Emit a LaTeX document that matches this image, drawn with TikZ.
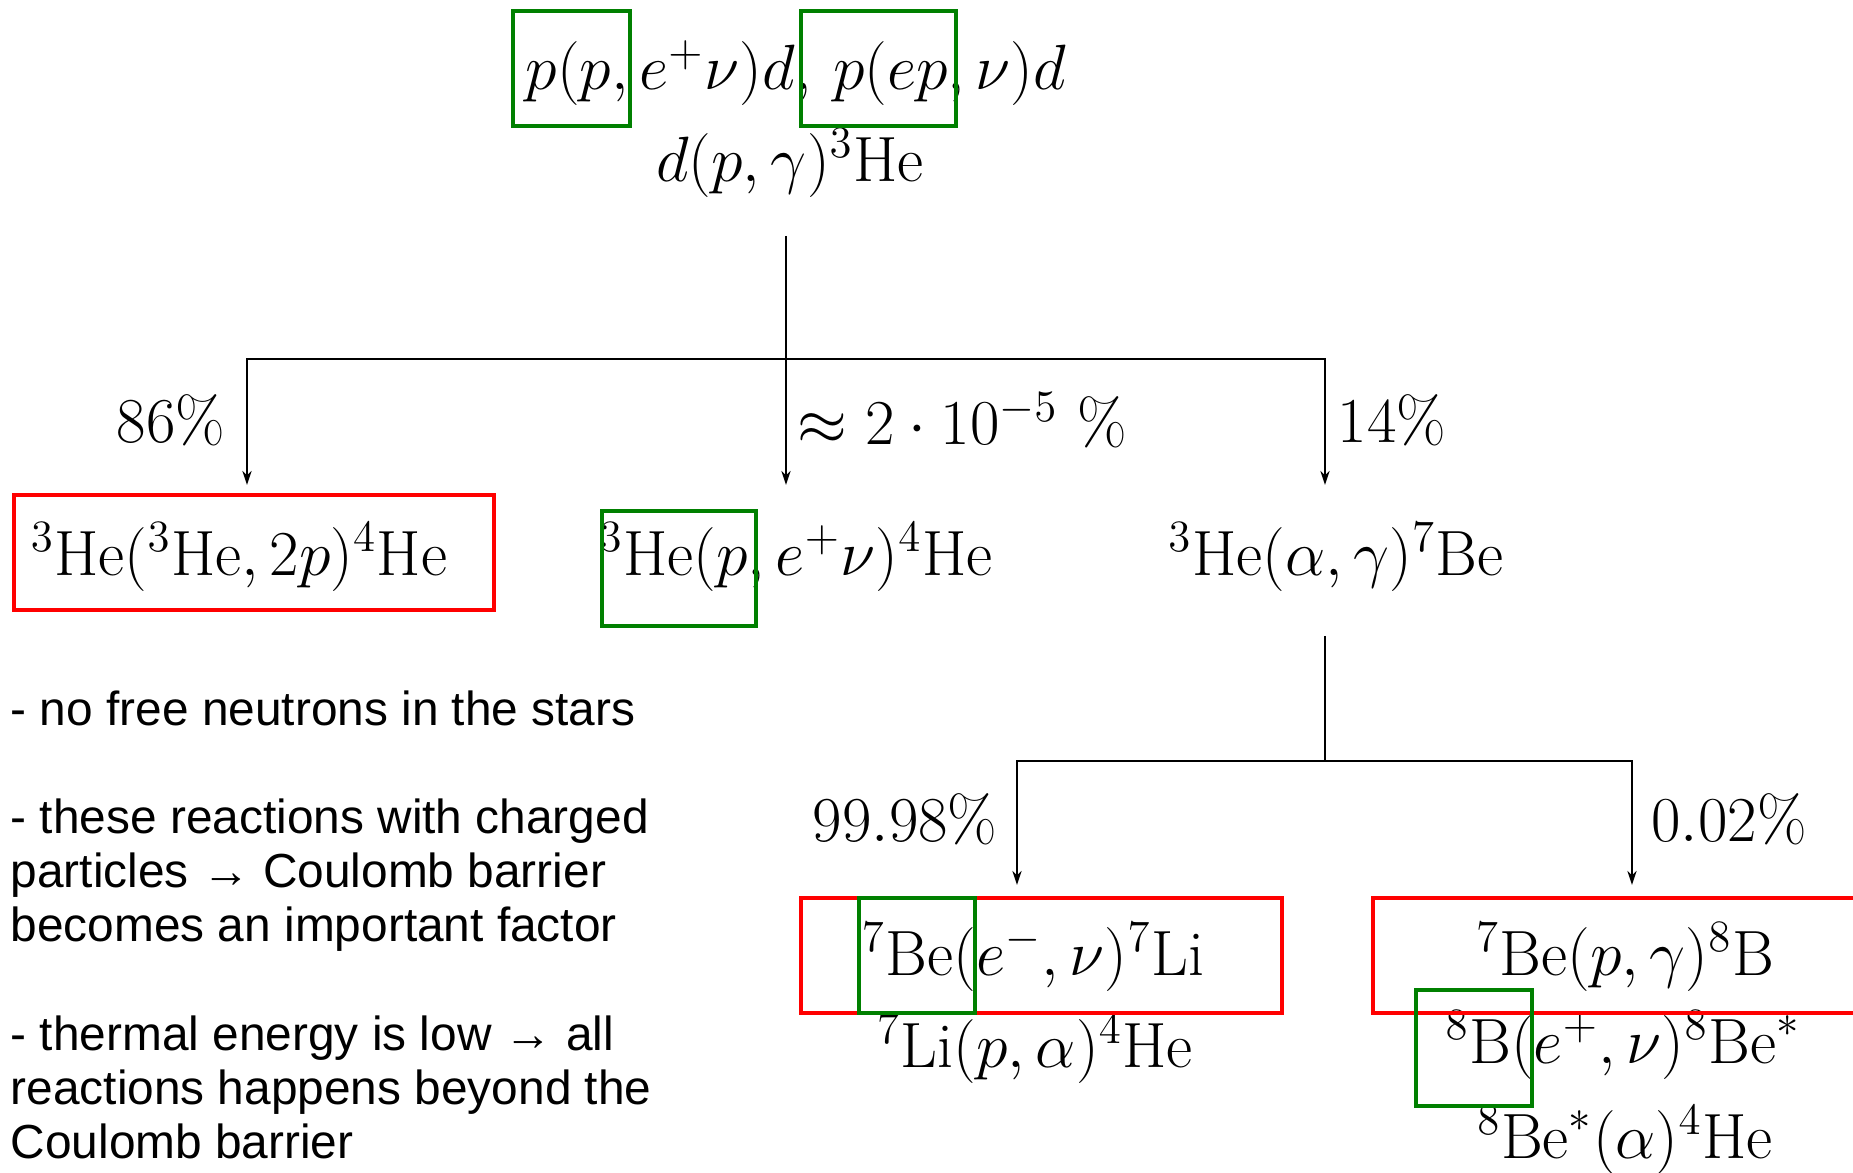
\RequirePackage{fix-cm}
\documentclass[tikz,border=0pt]{standalone}
\usepackage{fontspec}
\usepackage{tikz}
\usetikzlibrary{arrows.meta, positioning}
\newfontfamily\notefont{Liberation Sans}
\definecolor{boxred}{RGB}{255, 0, 0}
\definecolor{boxgreen}{RGB}{0, 128, 0}

\begin{document}
\begin{tikzpicture}[
    x=0.01cm, y=-0.01cm,
    reaction/.style={inner sep=0pt, font=\fontsize{18.2}{22}\selectfont},
    ratio/.style={inner sep=0pt, font=\fontsize{18.2}{22}\selectfont},
    redbox/.style={draw=boxred, line width=0.9pt},
    greenbox/.style={draw=boxgreen, line width=0.9pt},
    branch/.style={line width=0.5pt},
    note/.style={inner sep=0pt, align=left, font=\notefont\fontsize{13.6}{15.4}\selectfont}
]
\useasboundingbox (0,0) rectangle (1853,1173);

% pp chain start
\node[reaction] (pp) at (796,73) {$p(p,e^+\nu)d,\,p(ep,\nu)d$};
\node[reaction] (dp) at (790,163) {$d(p,\gamma)^3\mathrm{He}$};

% first branching
\node[reaction] (hehe) at (239,557) {$^3\mathrm{He}(^3\mathrm{He},2p)^4\mathrm{He}$};
\node[reaction] (hep) at (796,557) {$^3\mathrm{He}(p,e^+\nu)^4\mathrm{He}$};
\node[reaction] (healpha) at (1336,557) {$^3\mathrm{He}(\alpha,\gamma)^7\mathrm{Be}$};

\coordinate (s1) at (786,236);
\coordinate (j1) at (786,359);
\coordinate (e1) at (247,485);
\coordinate (e2) at (786,485);
\coordinate (e3) at (1325,485);

\draw[branch] (s1) -- (j1);
\draw[branch, -{Stealth[length=4pt, width=2.6pt]}] (j1) -| (e1);
\draw[branch, -{Stealth[length=4pt, width=2.6pt]}] (j1) -- (e2);
\draw[branch, -{Stealth[length=4pt, width=2.6pt]}] (j1) -| (e3);

\node[ratio] (r1) at (171,420) {$86\%$};
\node[ratio, anchor=west] (r2) at (797,420) {$\approx 2\cdot 10^{-5}\ \%$};
\node[ratio, anchor=west] (r3) at (1337,420) {$14\%$};

% second branching
\node[reaction] (beel) at (1033,957) {$^7\mathrm{Be}(e^-,\nu)^7\mathrm{Li}$};
\node[reaction] (lip) at (1035,1049) {$^7\mathrm{Li}(p,\alpha)^4\mathrm{He}$};
\node[reaction] (bep) at (1625,957) {$^7\mathrm{Be}(p,\gamma)^8\mathrm{B}$};
\node[reaction] (bdecay) at (1623,1045) {$^8\mathrm{B}(e^+,\nu)^8\mathrm{Be}^*$};
\node[reaction] (bestar) at (1625,1140) {$^8\mathrm{Be}^*(\alpha)^4\mathrm{He}$};

\coordinate (s2) at (1325,636);
\coordinate (j2) at (1325,761);
\coordinate (e4) at (1017,885);
\coordinate (e5) at (1632,885);

\draw[branch] (s2) -- (j2);
\draw[branch, -{Stealth[length=4pt, width=2.6pt]}] (j2) -| (e4);
\draw[branch, -{Stealth[length=4pt, width=2.6pt]}] (j2) -| (e5);

\node[ratio] (r4) at (905,819) {$99.98\%$};
\node[ratio] (r5) at (1729,819) {$0.02\%$};

% highlight boxes
\draw[greenbox] (513,11) rectangle (630,126);
\draw[greenbox] (801,11) rectangle (956,126);
\draw[redbox] (14,495) rectangle (494,610);
\draw[greenbox] (602,511) rectangle (756,626);
\draw[redbox] (801,898) rectangle (1282,1013);
\draw[greenbox] (859,898) rectangle (975,1013);
\draw[redbox] (1373,898) rectangle (1870,1013);
\draw[greenbox] (1416,990) rectangle (1532,1106);

% remarks
\node[note, anchor=north west] (remarks) at (10,690) {- no free neutrons in the stars\\[15.4pt]
- these reactions with charged\\
particles \textrightarrow{} Coulomb barrier\\
becomes an important factor\\[15.4pt]
- thermal energy is low \textrightarrow{} all\\
reactions happens beyond the\\
Coulomb barrier};

\end{tikzpicture}
\end{document}
